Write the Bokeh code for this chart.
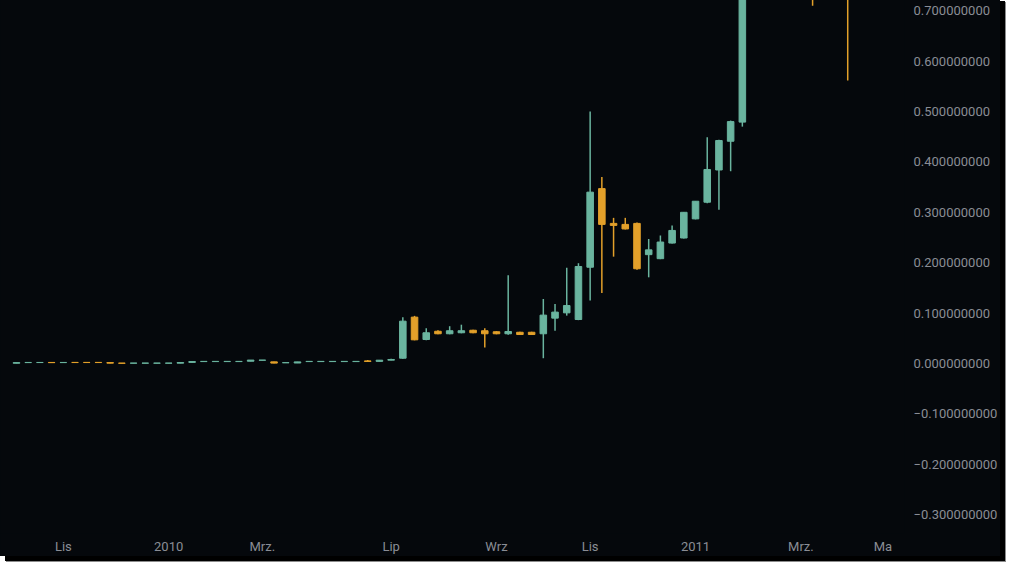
from bokeh.plotting import figure
from bokeh.models import Range1d, FixedTicker, CustomJSTickFormatter, ColumnDataSource
from bokeh.embed import file_html
from bokeh.resources import INLINE

# weekly candles (bar index 0..71)
opens = [0.0005, 0.0018, 0.0019, 0.0021, 0.0018, 0.0022, 0.0022, 0.0022, 0.0019, 0.0009,
         0.0006, 0.0006, 0.0006, 0.0006, 0.0006, 0.0022, 0.0038, 0.0038, 0.0038, 0.0038,
         0.0045, 0.0064, 0.0033, 0.0014, 0.0010, 0.0038, 0.0038, 0.0038, 0.0038, 0.0038,
         0.0052, 0.0042, 0.0066,
         0.0105, 0.092, 0.0476, 0.064, 0.059, 0.061, 0.066, 0.065, 0.063, 0.059,
         0.062, 0.062, 0.059, 0.090, 0.1005, 0.0873, 0.191, 0.347, 0.278, 0.276,
         0.278, 0.216, 0.208, 0.239, 0.249, 0.287, 0.320, 0.384, 0.441, 0.479,
         0.93, 0.88, 0.93, 0.89, 0.86, 0.88, 0.82, 0.86, 0.78]
highs = [0.0019, 0.0022, 0.0022, 0.0022, 0.0022, 0.0023, 0.0023, 0.0023, 0.0020, 0.0010,
         0.0010, 0.0010, 0.0010, 0.0010, 0.0021, 0.0041, 0.0043, 0.0043, 0.0043, 0.0043,
         0.0069, 0.0069, 0.0034, 0.0019, 0.0033, 0.0043, 0.0043, 0.0043, 0.0043, 0.0043,
         0.0070, 0.0067, 0.0095,
         0.092, 0.0945, 0.070, 0.066, 0.074, 0.077, 0.067, 0.070, 0.064, 0.175,
         0.063, 0.063, 0.128, 0.118, 0.190, 0.199, 0.500, 0.370, 0.289, 0.289,
         0.280, 0.247, 0.254, 0.274, 0.300, 0.322, 0.449, 0.444, 0.482, 0.95,
         1.10, 0.98, 1.00, 0.95, 0.92, 0.94, 0.90, 0.93, 0.84]
lows = [0.0004, 0.0017, 0.0018, 0.0016, 0.0017, 0.0018, 0.0018, 0.0018, 0.0006, 0.0003,
        0.0005, 0.0005, 0.0005, 0.0005, 0.0005, 0.0021, 0.0037, 0.0037, 0.0037, 0.0037,
        0.0044, 0.0063, 0.0007, 0.0013, 0.0009, 0.0037, 0.0037, 0.0037, 0.0037, 0.0037,
        0.0030, 0.0041, 0.0065,
        0.0095, 0.046, 0.046, 0.058, 0.058, 0.060, 0.060, 0.032, 0.058, 0.057,
        0.057, 0.057, 0.0105, 0.065, 0.095, 0.086, 0.125, 0.140, 0.212, 0.266,
        0.186, 0.171, 0.207, 0.238, 0.248, 0.286, 0.318, 0.305, 0.3815, 0.470,
        0.80, 0.76, 0.81, 0.78, 0.74, 0.710, 0.75, 0.73, 0.5615]
closes = [0.0018, 0.0021, 0.0021, 0.0017, 0.0021, 0.0019, 0.0019, 0.0019, 0.0007, 0.0004,
          0.0009, 0.0009, 0.0009, 0.0009, 0.0020, 0.0040, 0.0042, 0.0042, 0.0042, 0.0042,
          0.0068, 0.0068, 0.0008, 0.0018, 0.0032, 0.0042, 0.0042, 0.0042, 0.0042, 0.0042,
          0.0040, 0.0066, 0.0080,
          0.084, 0.047, 0.061, 0.059, 0.065, 0.065, 0.061, 0.059, 0.059, 0.0635,
          0.0575, 0.0575, 0.096, 0.102, 0.115, 0.1925, 0.340, 0.276, 0.274, 0.267,
          0.188, 0.2255, 0.241, 0.264, 0.300, 0.322, 0.385, 0.4425, 0.480, 0.93,
          0.88, 0.93, 0.89, 0.86, 0.88, 0.82, 0.86, 0.78, 0.76]

tick_index = [4, 13, 21, 32, 41, 49, 58, 67, 74]
tick_labels = ["Lis", "2010", "Mrz.", "Lip", "Wrz", "Lis", "2011", "Mrz.", "Ma"]
price_ticks = [-0.3, -0.2, -0.1, 0.0, 0.1, 0.2, 0.3, 0.4, 0.5, 0.6, 0.7]

BG = "#05080c"
UP = "#6ab49f"
DOWN = "#e3a02a"
TXT = "#8a8d95"
FONT = "Roboto"

idx = list(range(len(opens)))
colors = [UP if c >= o else DOWN for o, c in zip(opens, closes)]
src = ColumnDataSource(dict(
    x=idx, o=opens, h=highs, l=lows, c=closes,
    top=[max(o, c) for o, c in zip(opens, closes)],
    bot=[min(o, c) for o, c in zip(opens, closes)],
    color=colors,
))

p = figure(width=1000, height=560, output_backend="svg", toolbar_location=None,
           x_range=Range1d(-1.365, 75.85), y_range=Range1d(-0.3373, 0.7282),
           y_axis_location="right",
           background_fill_color=BG, border_fill_color=BG,
           min_border_left=0, min_border_top=0, min_border_bottom=23, min_border_right=95,
           margin=(-4, 0, 0, 0))
p.styles = {"background-color": BG,
            "box-shadow": "5px 5px 0 0 #000000, 6px 6px 0 0 #8c8c8c"}
p.outline_line_color = None
p.xgrid.visible = False
p.ygrid.visible = False

p.segment(x0="x", y0="l", x1="x", y1="h", source=src, line_color="color", line_width=1.5)
p.vbar(x="x", top="top", bottom="bot", width=0.56, source=src,
       fill_color="color", line_color="color", line_width=1)

xa = p.xaxis[0]
xa.ticker = FixedTicker(ticks=tick_index)
xa.major_label_overrides = {t: s for t, s in zip(tick_index, tick_labels)}
ya = p.yaxis[0]
ya.ticker = FixedTicker(ticks=price_ticks)
ya.formatter = CustomJSTickFormatter(
    code="return (tick < -1e-9 ? '\u2212' : '') + Math.abs(tick).toFixed(9);")
for ax in (xa, ya):
    ax.axis_line_color = None
    ax.major_tick_line_color = None
    ax.minor_tick_line_color = None
    ax.major_label_text_color = TXT
    ax.major_label_text_font = FONT
    ax.major_label_text_font_size = "13px"
xa.major_label_standoff = -1
ya.major_label_standoff = 3

open("out.html", "w").write(file_html(p, INLINE))
